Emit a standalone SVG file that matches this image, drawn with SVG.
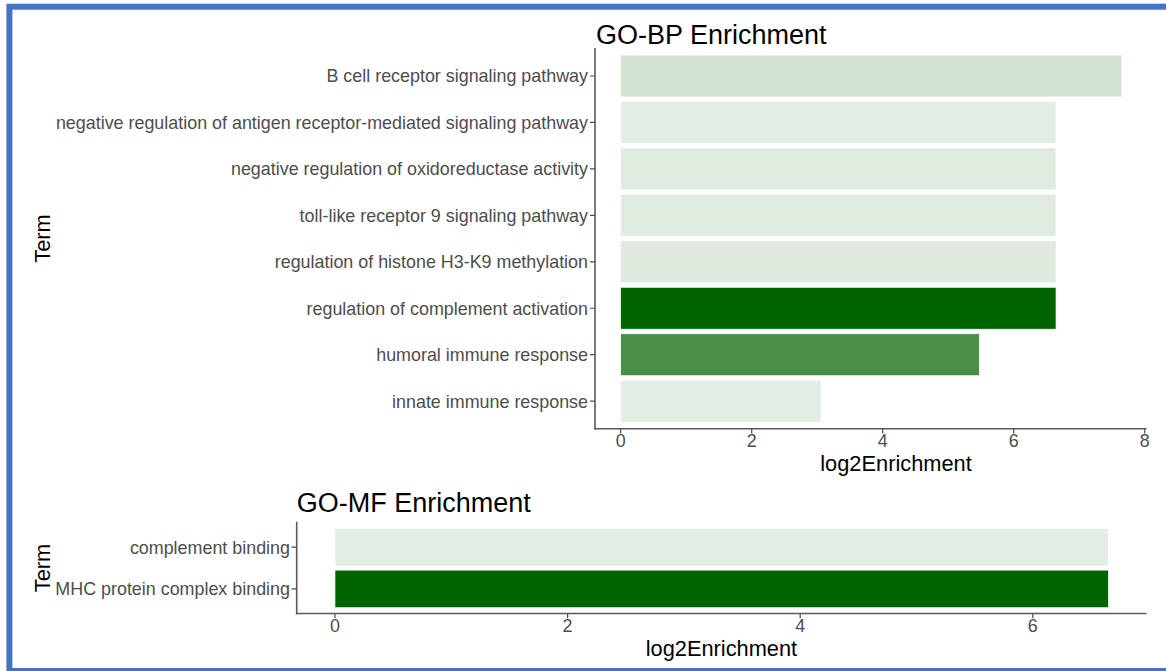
<svg xmlns="http://www.w3.org/2000/svg" width="1166" height="671" viewBox="0 0 1166 671">
  <style>
    .title { font-family: "Liberation Sans", Arial, sans-serif; font-size: 27px; fill: #000000; }
    .axtitle { font-family: "Liberation Sans", Arial, sans-serif; font-size: 21.8px; fill: #000000; }
    .lab { font-family: "Liberation Sans", Arial, sans-serif; font-size: 17.9px; fill: #4d4d4d; text-anchor: end; }
    .tick { font-family: "Liberation Sans", Arial, sans-serif; font-size: 17.9px; fill: #4d4d4d; text-anchor: middle; }
    .axis { stroke: #5a5a5a; stroke-width: 1.6; fill: none; }
    .tk { stroke: #4d4d4d; stroke-width: 1.2; fill: none; }
    .bar { stroke: #ffffff; stroke-width: 0.6; }
  </style>

  <rect width="1166" height="671" fill="#ffffff"/>

  <!-- page frame -->
  <rect id="frame" x="9.4" y="6.7" width="1200" height="664.3" fill="none" stroke="#4472c4" stroke-width="6"/>

  <!-- GO-BP panel -->
  <g id="bp-panel">
    <text class="title" x="596" y="44">GO-BP Enrichment</text>
    <g id="bp-bars">
      <rect class="bar" x="620.7" y="55.1" width="501" height="41.8" fill="#d3e3d2"/>
      <rect class="bar" x="620.7" y="101.55" width="435.3" height="41.8" fill="#e3ede3"/>
      <rect class="bar" x="620.7" y="148" width="435.3" height="41.8" fill="#e0ebe0"/>
      <rect class="bar" x="620.7" y="194.45" width="435.3" height="41.8" fill="#e0ebdf"/>
      <rect class="bar" x="620.7" y="240.9" width="435.3" height="41.8" fill="#dfe9de"/>
      <rect class="bar" x="620.7" y="287.35" width="435.3" height="41.8" fill="#006400"/>
      <rect class="bar" x="620.7" y="333.8" width="358.6" height="41.8" fill="#4a8f49"/>
      <rect class="bar" x="620.7" y="380.25" width="200.3" height="41.8" fill="#e3ede3"/>
    </g>
    <g id="bp-axes">
      <line class="axis" x1="595" y1="48" x2="595" y2="429.6"/>
      <line class="axis" x1="594.2" y1="428.8" x2="1146.5" y2="428.8"/>
      <path class="tk" d="M590 76H595M590 122.45H595M590 168.9H595M590 215.35H595M590 261.8H595M590 308.25H595M590 354.7H595M590 401.15H595"/>
      <path class="tk" d="M620.7 429V433.5M751.7 429V433.5M882.7 429V433.5M1013.7 429V433.5M1144.7 429V433.5"/>
    </g>
    <g id="bp-labels">
      <text class="lab" x="588" y="82.4">B cell receptor signaling pathway</text>
      <text class="lab" x="588" y="128.85">negative regulation of antigen receptor-mediated signaling pathway</text>
      <text class="lab" x="588" y="175.3">negative regulation of oxidoreductase activity</text>
      <text class="lab" x="588" y="221.75">toll-like receptor 9 signaling pathway</text>
      <text class="lab" x="588" y="268.2">regulation of histone H3-K9 methylation</text>
      <text class="lab" x="588" y="314.65">regulation of complement activation</text>
      <text class="lab" x="588" y="361.1">humoral immune response</text>
      <text class="lab" x="588" y="407.55">innate immune response</text>
    </g>
    <g id="bp-ticks">
      <text class="tick" x="620.7" y="447">0</text>
      <text class="tick" x="751.7" y="447">2</text>
      <text class="tick" x="882.7" y="447">4</text>
      <text class="tick" x="1013.7" y="447">6</text>
      <text class="tick" x="1144.7" y="447">8</text>
    </g>
    <text class="axtitle" x="896" y="471" text-anchor="middle">log2Enrichment</text>
    <text class="axtitle" transform="translate(49.5 238.5) rotate(-90)" text-anchor="middle">Term</text>
  </g>

  <!-- GO-MF panel -->
  <g id="mf-panel">
    <text class="title" x="296.7" y="512.3">GO-MF Enrichment</text>
    <g id="mf-bars">
      <rect class="bar" x="335" y="528.45" width="773.3" height="37.5" fill="#e3ede3"/>
      <rect class="bar" x="335" y="570.15" width="773.3" height="37.5" fill="#006400"/>
    </g>
    <g id="mf-axes">
      <line class="axis" x1="296.7" y1="521.7" x2="296.7" y2="614.3"/>
      <line class="axis" x1="295.9" y1="613.5" x2="1146.5" y2="613.5"/>
      <path class="tk" d="M291.5 547.2H296.7M291.5 588.9H296.7"/>
      <path class="tk" d="M335 613.7V618.2M567.6 613.7V618.2M800.2 613.7V618.2M1032.8 613.7V618.2"/>
    </g>
    <g id="mf-labels">
      <text class="lab" x="290" y="553.6">complement binding</text>
      <text class="lab" x="290" y="595.3">MHC protein complex binding</text>
    </g>
    <g id="mf-ticks">
      <text class="tick" x="335" y="632">0</text>
      <text class="tick" x="567.6" y="632">2</text>
      <text class="tick" x="800.2" y="632">4</text>
      <text class="tick" x="1032.8" y="632">6</text>
    </g>
    <text class="axtitle" x="721.4" y="656" text-anchor="middle">log2Enrichment</text>
    <text class="axtitle" transform="translate(49.5 568) rotate(-90)" text-anchor="middle">Term</text>
  </g>
</svg>
